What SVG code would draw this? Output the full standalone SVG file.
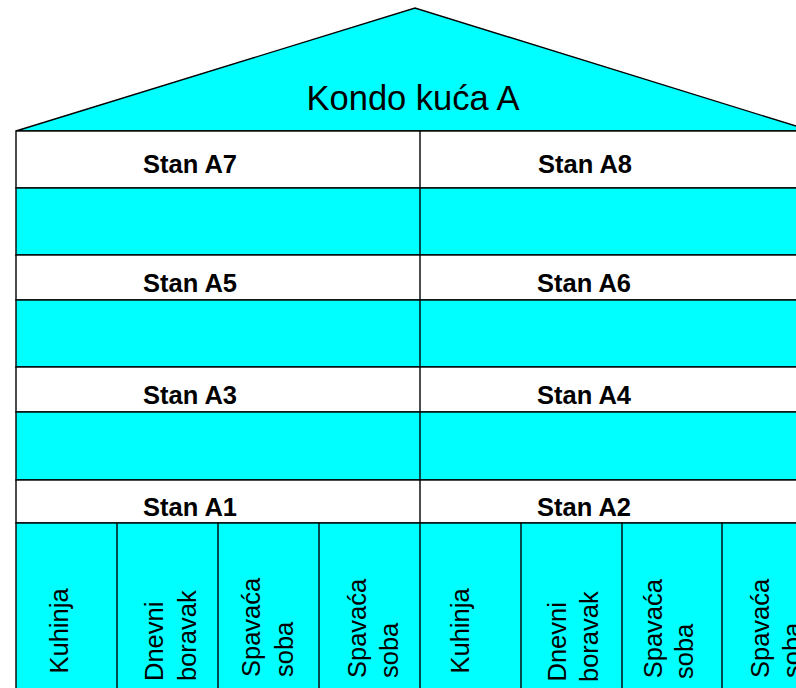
<svg xmlns="http://www.w3.org/2000/svg" width="796" height="688" viewBox="0 0 796 688">
<style>
.cy{fill:#00FFFF;stroke:#000;stroke-width:1.4}
.wh{fill:#FFFFFF;stroke:#000;stroke-width:1.4}
.ln{stroke:#000;stroke-width:1.4;fill:none}
.title{font-family:"Liberation Sans",Arial,sans-serif;font-size:34.5px;fill:#000}
.lbl{font-family:"Liberation Sans",Arial,sans-serif;font-size:25.5px;font-weight:bold;fill:#000;text-anchor:middle}
.room{font-family:"Liberation Sans",Arial,sans-serif;font-size:25.5px;fill:#000}
</style>
<rect x="0" y="0" width="796" height="688" fill="#FFFFFF"/>
<g id="roof">
<polygon class="cy" points="16,131 415,8 812,131"/>
<text class="title" x="306.5" y="110">Kondo kuća A</text>
</g>
<g id="floor4">
<rect class="wh" x="16" y="131" width="808" height="57"/>
<rect class="cy" x="16" y="188" width="808" height="67"/>
<text class="lbl" x="190" y="173">Stan A7</text>
<text class="lbl" x="585" y="173">Stan A8</text>
</g>
<g id="floor3">
<rect class="wh" x="16" y="255" width="808" height="45"/>
<rect class="cy" x="16" y="300" width="808" height="67"/>
<text class="lbl" x="190" y="292">Stan A5</text>
<text class="lbl" x="584" y="292">Stan A6</text>
</g>
<g id="floor2">
<rect class="wh" x="16" y="367" width="808" height="45"/>
<rect class="cy" x="16" y="412" width="808" height="68"/>
<text class="lbl" x="190" y="404">Stan A3</text>
<text class="lbl" x="584" y="404">Stan A4</text>
</g>
<g id="floor1">
<rect class="wh" x="16" y="480" width="808" height="43"/>
<rect class="cy" x="16" y="523" width="808" height="180"/>
<text class="lbl" x="190" y="516">Stan A1</text>
<text class="lbl" x="584" y="516">Stan A2</text>
</g>
<g id="connectors">
<line class="ln" x1="420" y1="131" x2="420" y2="688"/>
<line class="ln" x1="117" y1="523" x2="117" y2="688"/>
<line class="ln" x1="218" y1="523" x2="218" y2="688"/>
<line class="ln" x1="319" y1="523" x2="319" y2="688"/>
<line class="ln" x1="521" y1="523" x2="521" y2="688"/>
<line class="ln" x1="622" y1="523" x2="622" y2="688"/>
<line class="ln" x1="722" y1="523" x2="722" y2="688"/>
</g>
<g id="rooms-A1">
<text class="room" transform="translate(67.7,673.5) rotate(-90)">Kuhinja</text>
<text class="room" transform="translate(162.7,681) rotate(-90)">Dnevni</text>
<text class="room" transform="translate(196,681) rotate(-90)">boravak</text>
<text class="room" transform="translate(260,677) rotate(-90)">Spavaća</text>
<text class="room" transform="translate(293,677) rotate(-90)">soba</text>
<text class="room" transform="translate(366,678) rotate(-90)">Spavaća</text>
<text class="room" transform="translate(398,678) rotate(-90)">soba</text>
</g>
<g id="rooms-A2">
<text class="room" transform="translate(469,673.5) rotate(-90)">Kuhinja</text>
<text class="room" transform="translate(566,681.5) rotate(-90)">Dnevni</text>
<text class="room" transform="translate(598,682) rotate(-90)">boravak</text>
<text class="room" transform="translate(661.5,678.3) rotate(-90)">Spavaća</text>
<text class="room" transform="translate(693,679) rotate(-90)">soba</text>
<text class="room" transform="translate(769,678) rotate(-90)">Spavaća</text>
<text class="room" transform="translate(801,678) rotate(-90)">soba</text>
</g>
</svg>
